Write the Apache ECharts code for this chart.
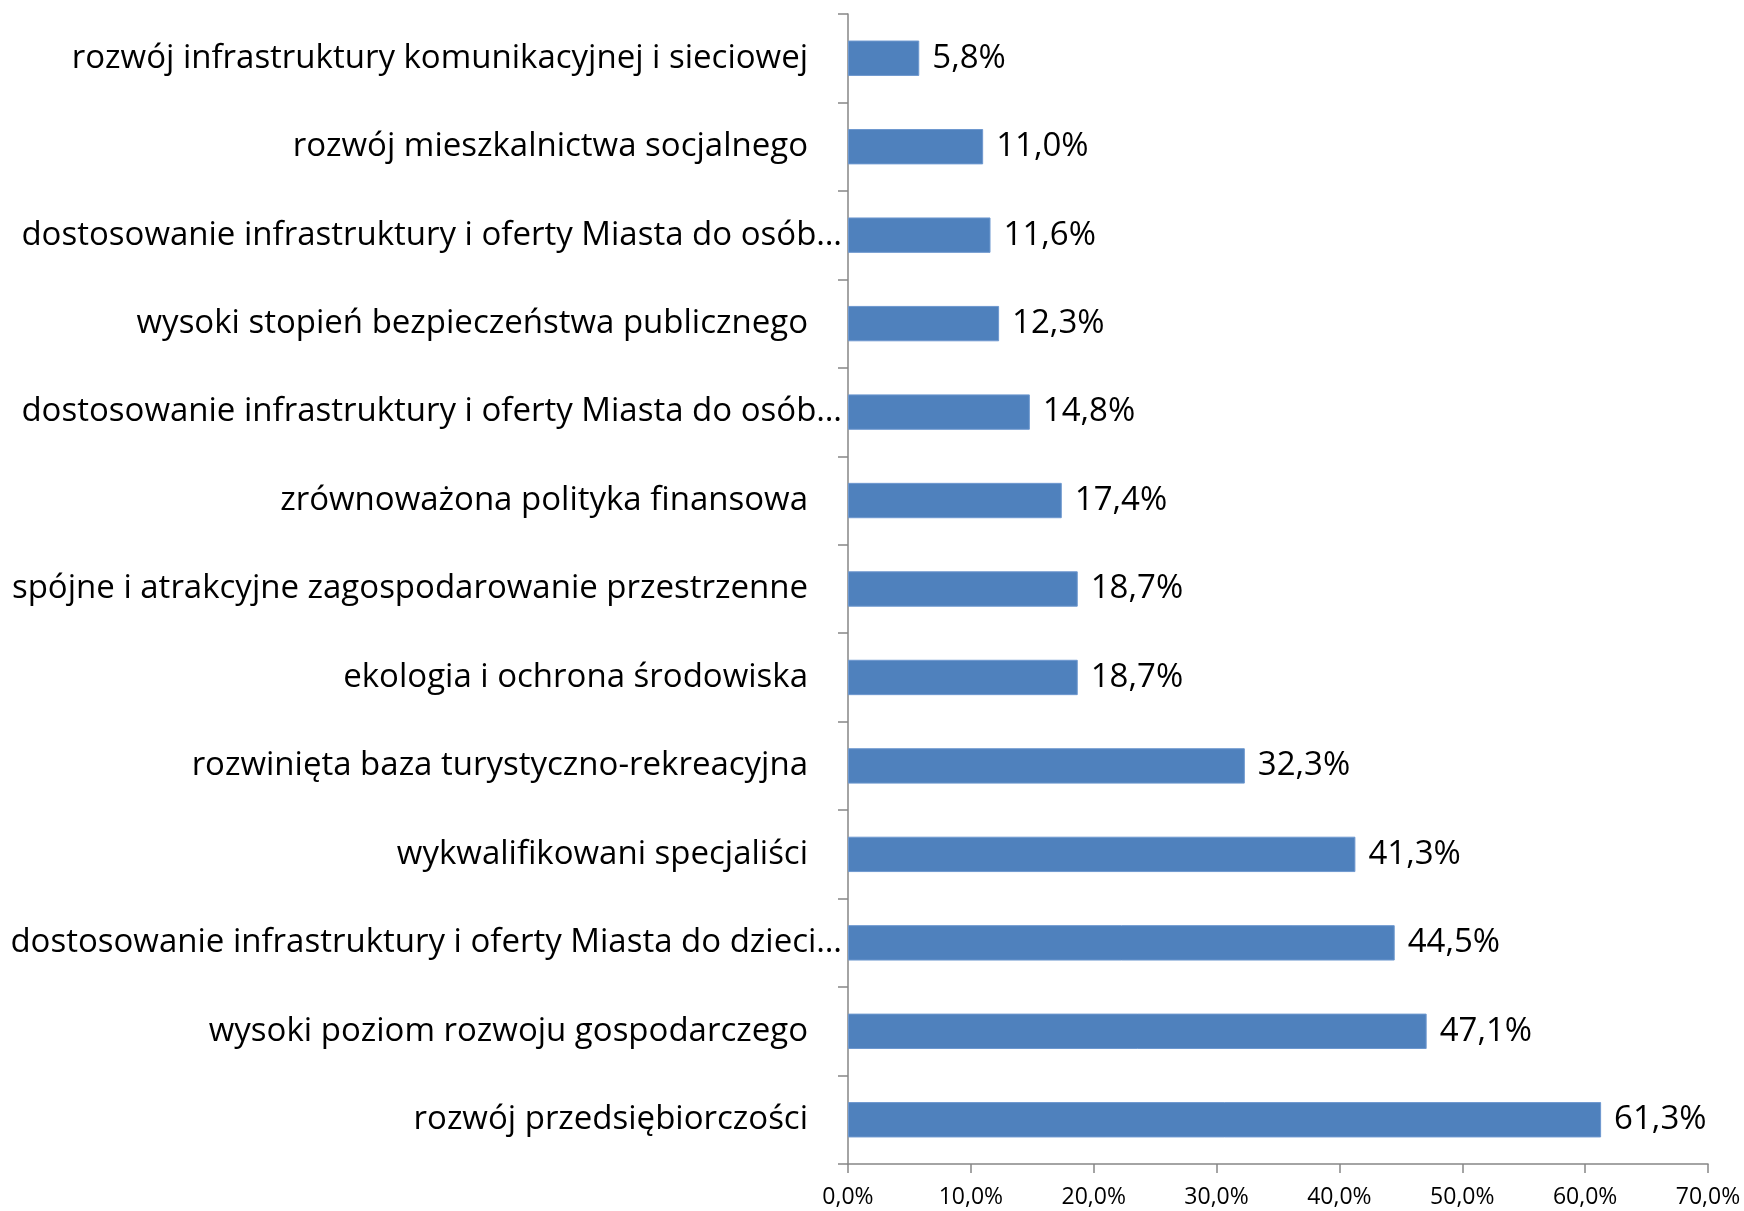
<!DOCTYPE html>
<html><head><meta charset="utf-8">
<script src="https://cdn.jsdelivr.net/npm/echarts@6/dist/echarts.min.js"></script>
<style>html,body{margin:0;padding:0;background:#fff}#c{width:1744px;height:1211px}</style>
</head><body><div id="c"></div>
<script>
const categories = [
  'rozwój infrastruktury komunikacyjnej i sieciowej',
  'rozwój mieszkalnictwa socjalnego',
  'dostosowanie infrastruktury i oferty Miasta do osób…',
  'wysoki stopień bezpieczeństwa publicznego',
  'dostosowanie infrastruktury i oferty Miasta do osób…',
  'zrównoważona polityka finansowa',
  'spójne i atrakcyjne zagospodarowanie przestrzenne',
  'ekologia i ochrona środowiska',
  'rozwinięta baza turystyczno-rekreacyjna',
  'wykwalifikowani specjaliści',
  'dostosowanie infrastruktury i oferty Miasta do dzieci…',
  'wysoki poziom rozwoju gospodarczego',
  'rozwój przedsiębiorczości'
];
const values = [5.8, 11.0, 11.6, 12.3, 14.8, 17.4, 18.7, 18.7, 32.3, 41.3, 44.5, 47.1, 61.3];
const xTicks = [0, 10, 20, 30, 40, 50, 60, 70];

const fmt = v => v.toFixed(1).replace('.', ',') + '%';
const FONT = '"Open Sans", "Noto Sans", sans-serif';
const FS = 33;
const chart = echarts.init(document.getElementById('c'));
chart.setOption({
  animation: false,
  grid: { left: 848, right: 36, top: 14, bottom: 47 },
  xAxis: {
    type: 'value', min: xTicks[0], max: xTicks[xTicks.length - 1], interval: 10,
    axisLine: { show: true, lineStyle: { color: '#868686', width: 1.5 } },
    axisTick: { show: true, length: 9, lineStyle: { color: '#868686', width: 1.5 } },
    splitLine: { show: false },
    axisLabel: { formatter: v => fmt(v), fontFamily: FONT, fontSize: 23, color: '#000', margin: 22 }
  },
  yAxis: {
    type: 'category', inverse: true, data: categories,
    axisLine: { show: true, lineStyle: { color: '#868686', width: 1.5 } },
    axisTick: { show: true, length: 10, lineStyle: { color: '#868686', width: 1.5 } },
    axisLabel: {
      margin: 6, fontFamily: FONT, fontSize: FS, color: '#000',
      formatter: v => v.endsWith('…') ? '{t|' + v + '}' : '{n|' + v + '}',
      rich: {
        t: { fontFamily: FONT, fontSize: FS, color: '#000' },
        n: { fontFamily: FONT, fontSize: FS, color: '#000', padding: [0, 34, 0, 0] }
      }
    }
  },
  series: [{
    type: 'bar', data: values, barWidth: '40%',
    itemStyle: { color: '#4F81BD', borderColor: '#6E98CF', borderWidth: 1 },
    label: { show: true, position: 'right', distance: 13, formatter: p => fmt(p.value),
      fontFamily: FONT, fontSize: FS, color: '#000' }
  }]
});
</script></body></html>
